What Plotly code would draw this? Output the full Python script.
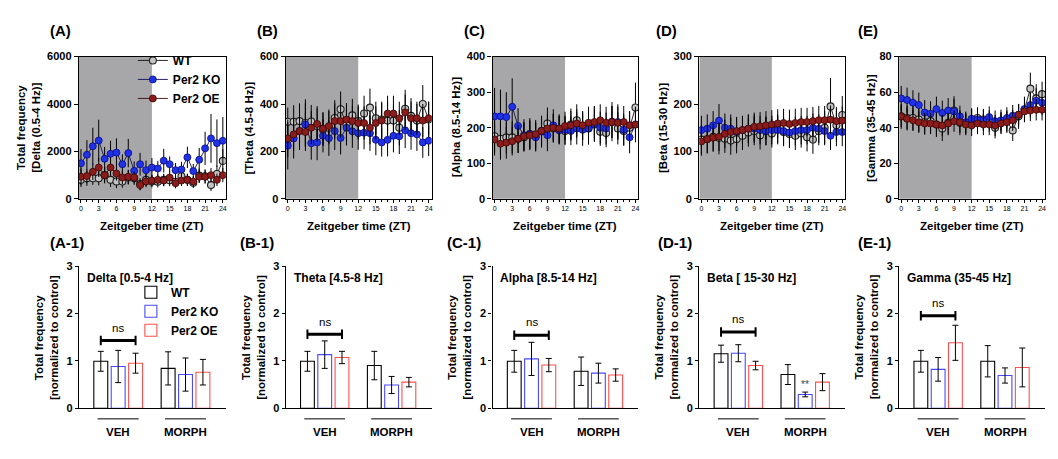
import plotly.graph_objects as go

W, H = 1058, 459
FONT = "Liberation Sans, Arial, sans-serif"

# ---------------- data ----------------
ZT = list(range(25))
DARK_PHASE_END = 12
GROUPS = ["VEH", "MORPH"]
GENOTYPES = ["WT", "Per2 KO", "Per2 OE"]

# (A) Delta
delta_wt = [800, 870, 870, 870, 1000, 800, 730, 730, 900, 870, 620, 800, 730, 720, 800, 780, 720, 950, 800, 680, 980, 950, 580, 1050, 1600]
delta_ko = [1500, 1860, 2220, 2460, 1690, 1900, 1950, 1460, 1930, 1180, 1460, 1210, 1320, 1280, 1610, 1460, 1210, 1240, 1750, 1170, 1650, 2130, 2550, 2350, 2450]
delta_oe = [930, 960, 1140, 1320, 1000, 1320, 1070, 900, 930, 900, 580, 730, 770, 800, 770, 900, 660, 770, 800, 730, 930, 930, 1000, 800, 1000]
delta_wt_err = [300, 320, 280, 300, 350, 300, 280, 260, 300, 280, 250, 260, 250, 240, 260, 250, 240, 300, 260, 220, 300, 300, 250, 350, 500]
delta_ko_err = [600, 620, 780, 880, 500, 550, 600, 420, 600, 400, 480, 400, 400, 320, 500, 330, 300, 320, 450, 300, 500, 700, 1030, 1000, 1000]
delta_oe_err = [350, 300, 350, 400, 300, 380, 300, 280, 300, 250, 220, 240, 250, 230, 240, 260, 220, 230, 250, 230, 260, 280, 300, 260, 300]

# (B) Theta
theta_wt = [325, 325, 328, 320, 326, 307, 293, 300, 341, 378, 314, 352, 328, 360, 385, 340, 335, 330, 330, 300, 380, 350, 330, 400, 335]
theta_ko = [224, 255, 286, 314, 235, 238, 266, 256, 286, 257, 300, 285, 277, 279, 277, 249, 238, 249, 266, 264, 289, 277, 272, 238, 245]
theta_oe = [255, 272, 286, 282, 300, 316, 296, 307, 328, 328, 334, 328, 320, 320, 300, 320, 330, 360, 360, 340, 365, 340, 340, 330, 340]
theta_wt_err = [60, 70, 75, 100, 70, 75, 70, 70, 75, 75, 70, 70, 70, 75, 80, 70, 75, 80, 70, 75, 80, 75, 70, 80, 75]
theta_ko_err = [100, 85, 80, 90, 70, 75, 70, 75, 80, 70, 75, 70, 70, 70, 75, 65, 60, 70, 70, 75, 75, 70, 70, 65, 65]
theta_oe_err = [80, 70, 75, 80, 70, 75, 70, 70, 75, 70, 70, 65, 70, 70, 70, 70, 75, 75, 75, 70, 75, 70, 70, 70, 70]

# (C) Alpha
alpha_wt = [176, 169, 173, 173, 169, 173, 182, 176, 191, 212, 198, 194, 191, 209, 221, 205, 198, 209, 189, 185, 216, 198, 191, 200, 257]
alpha_ko = [232, 232, 230, 259, 205, 179, 182, 173, 189, 179, 207, 193, 194, 191, 198, 194, 198, 210, 200, 198, 217, 216, 194, 173, 209]
alpha_oe = [167, 155, 158, 162, 169, 176, 179, 182, 191, 198, 200, 198, 205, 207, 212, 207, 214, 216, 221, 214, 216, 214, 216, 207, 209]
alpha_wt_err = [45, 45, 45, 45, 40, 40, 40, 40, 40, 45, 40, 40, 40, 45, 45, 40, 45, 45, 40, 40, 45, 45, 40, 45, 70]
alpha_ko_err = [80, 75, 70, 80, 50, 45, 45, 40, 45, 45, 45, 40, 40, 40, 45, 45, 45, 50, 45, 45, 55, 50, 45, 45, 50]
alpha_oe_err = [45, 45, 45, 40, 40, 40, 40, 40, 40, 40, 40, 40, 40, 40, 40, 40, 45, 45, 45, 45, 45, 45, 45, 40, 40]

# (D) Beta
beta_wt = [125, 126, 131, 129, 127, 123, 126, 133, 140, 143, 134, 143, 138, 148, 141, 137, 133, 138, 130, 125, 143, 150, 195, 155, 177]
beta_ko = [145, 148, 155, 165, 150, 148, 142, 145, 148, 148, 145, 143, 145, 145, 143, 140, 143, 145, 145, 150, 148, 143, 133, 141, 141]
beta_oe = [121, 126, 129, 131, 137, 141, 143, 145, 148, 152, 153, 155, 157, 159, 160, 158, 160, 162, 162, 164, 166, 166, 167, 164, 165]
beta_wt_err = [30, 30, 30, 35, 30, 30, 30, 30, 30, 30, 30, 30, 30, 30, 30, 30, 30, 30, 30, 30, 30, 35, 60, 35, 40]
beta_ko_err = [30, 30, 30, 35, 30, 30, 30, 30, 30, 30, 30, 30, 30, 30, 30, 30, 30, 30, 30, 30, 30, 30, 30, 30, 30]
beta_oe_err = [30, 30, 30, 30, 30, 30, 30, 30, 30, 30, 30, 30, 30, 30, 30, 30, 30, 30, 30, 30, 30, 30, 30, 30, 30]

# (E) Gamma
gamma_wt = [46.4, 45.5, 45.5, 44.6, 43.1, 43.7, 41.8, 39.5, 42.8, 49.7, 42.8, 42.4, 44.6, 45.5, 44.6, 43.7, 40.0, 42.8, 43.7, 38.5, 46.4, 50.1, 62.0, 56.5, 58.9]
gamma_ko = [56.5, 55.6, 54.1, 52.8, 48.6, 47.9, 50.5, 48.3, 49.7, 49.2, 46.4, 43.1, 45.0, 44.6, 44.2, 46.0, 43.7, 44.2, 45.5, 46.8, 47.3, 50.5, 52.8, 55.2, 54.1]
gamma_oe = [46.4, 45.0, 44.2, 43.1, 42.4, 42.4, 41.8, 41.3, 42.4, 43.7, 43.1, 41.8, 41.3, 42.4, 41.8, 41.8, 41.3, 42.4, 43.1, 44.2, 47.3, 49.2, 49.7, 50.1, 50.1]
gamma_wt_err = [7, 7, 7, 7, 7, 7, 7, 7, 7, 8, 7, 6, 6, 6, 6, 6, 6, 6, 6, 6, 7, 7, 9, 8, 7]
gamma_ko_err = [7, 7, 7, 7, 7, 7, 7, 7, 7, 7, 6, 6, 6, 6, 6, 6, 6, 6, 6, 6, 6, 7, 7, 7, 7]
gamma_oe_err = [6, 6, 6, 6, 6, 6, 6, 6, 6, 6, 6, 6, 6, 6, 6, 6, 6, 6, 6, 6, 6, 6, 6, 6, 6]

# Normalized bars [VEH, MORPH]
delta_bar_wt, delta_bar_wt_err = [0.99, 0.84], [0.21, 0.35]
delta_bar_ko, delta_bar_ko_err = [0.88, 0.71], [0.34, 0.35]
delta_bar_oe, delta_bar_oe_err = [0.95, 0.76], [0.21, 0.27]
theta_bar_wt, theta_bar_wt_err = [0.99, 0.90], [0.21, 0.30]
theta_bar_ko, theta_bar_ko_err = [1.13, 0.49], [0.29, 0.18]
theta_bar_oe, theta_bar_oe_err = [1.07, 0.55], [0.13, 0.10]
alpha_bar_wt, alpha_bar_wt_err = [0.99, 0.78], [0.23, 0.30]
alpha_bar_ko, alpha_bar_ko_err = [1.04, 0.74], [0.35, 0.21]
alpha_bar_oe, alpha_bar_oe_err = [0.91, 0.70], [0.14, 0.13]
beta_bar_wt, beta_bar_wt_err = [1.15, 0.71], [0.18, 0.21]
beta_bar_ko, beta_bar_ko_err = [1.16, 0.29], [0.18, 0.05]
beta_bar_oe, beta_bar_oe_err = [0.90, 0.55], [0.09, 0.18]
gamma_bar_wt, gamma_bar_wt_err = [0.99, 0.99], [0.23, 0.33]
gamma_bar_ko, gamma_bar_ko_err = [0.82, 0.69], [0.25, 0.16]
gamma_bar_oe, gamma_bar_oe_err = [1.38, 0.86], [0.37, 0.41]
ns_bracket_y = [1.43, 1.56, 1.54, 1.61, 1.95]

# ---------------- layout helpers ----------------
def px(p):
    return p / W

def py(p):
    return 1 - p / H

def sfx(n):
    return "" if n == 1 else str(n)

X_DOM = [(79, 226), (286, 432), (493, 639), (700, 846), (900, 1046)]
TOP_Y = (52, 198)
BOT_Y = (267, 413)
BARGAP, BARGROUPGAP = 0.225, 0.2

top_panels = [
    dict(lab="(A)", ymax=6000, dtick=2000, title="Total frequency<br>[Delta (0.5-4 Hz)]", tx=50,
         s=[(delta_wt, delta_wt_err), (delta_ko, delta_ko_err), (delta_oe, delta_oe_err)]),
    dict(lab="(B)", ymax=600, dtick=200, title="[Theta (4.5-8 Hz)]", tx=37,
         s=[(theta_wt, theta_wt_err), (theta_ko, theta_ko_err), (theta_oe, theta_oe_err)]),
    dict(lab="(C)", ymax=400, dtick=100, title="[Alpha (8.5-14 Hz)]", tx=37,
         s=[(alpha_wt, alpha_wt_err), (alpha_ko, alpha_ko_err), (alpha_oe, alpha_oe_err)]),
    dict(lab="(D)", ymax=300, dtick=100, title="[Beta (15-30 Hz)]", tx=37,
         s=[(beta_wt, beta_wt_err), (beta_ko, beta_ko_err), (beta_oe, beta_oe_err)]),
    dict(lab="(E)", ymax=80, dtick=20, title="[Gamma (35-45 Hz)]", tx=28,
         s=[(gamma_wt, gamma_wt_err), (gamma_ko, gamma_ko_err), (gamma_oe, gamma_oe_err)]),
]
bot_panels = [
    dict(lab="(A-1)", name="Delta [0.5-4 Hz]",
         s=[(delta_bar_wt, delta_bar_wt_err), (delta_bar_ko, delta_bar_ko_err), (delta_bar_oe, delta_bar_oe_err)]),
    dict(lab="(B-1)", name="Theta [4.5-8 Hz]",
         s=[(theta_bar_wt, theta_bar_wt_err), (theta_bar_ko, theta_bar_ko_err), (theta_bar_oe, theta_bar_oe_err)]),
    dict(lab="(C-1)", name="Alpha [8.5-14 Hz]",
         s=[(alpha_bar_wt, alpha_bar_wt_err), (alpha_bar_ko, alpha_bar_ko_err), (alpha_bar_oe, alpha_bar_oe_err)]),
    dict(lab="(D-1)", name="Beta [ 15-30 Hz]",
         s=[(beta_bar_wt, beta_bar_wt_err), (beta_bar_ko, beta_bar_ko_err), (beta_bar_oe, beta_bar_oe_err)]),
    dict(lab="(E-1)", name="Gamma (35-45 Hz]",
         s=[(gamma_bar_wt, gamma_bar_wt_err), (gamma_bar_ko, gamma_bar_ko_err), (gamma_bar_oe, gamma_bar_oe_err)]),
]
top_lab_x = [48, 255, 462, 655, 857]
bot_lab_x = [48, 238, 445, 657, 857]

line_styles = [
    dict(marker=dict(color="#c4c4c4", size=7, line=dict(color="#202020", width=1.1)), line=dict(color="#111111", width=0.9)),
    dict(marker=dict(color="#1f32e6", size=7, line=dict(color="#0a0a80", width=0.8)), line=dict(color="#10105a", width=0.9)),
    dict(marker=dict(color="#8a1c1c", size=7, line=dict(color="#3a0505", width=0.8)), line=dict(color="#3a0a0a", width=0.9)),
]
bar_lines = ["#000000", "#4a4aff", "#ff5050"]

fig = go.Figure()
layout = dict(
    width=W, height=H, margin=dict(l=0, r=0, t=0, b=0),
    paper_bgcolor="white", plot_bgcolor="white",
    font=dict(family=FONT, size=11, color="black"),
    barmode="group", bargap=BARGAP, bargroupgap=BARGROUPGAP,
    showlegend=True,
)
shapes, annotations = [], []
BOLD = dict(family=FONT, size=11, color="black", weight="bold")

# ---------- top panels ----------
for i, p in enumerate(top_panels):
    n = i + 1
    xa, ya = f"x{sfx(n)}", f"y{sfx(n)}"
    for j, (vals, errs) in enumerate(p["s"]):
        st = line_styles[j]
        fig.add_trace(go.Scatter(
            x=ZT, y=vals, mode="lines+markers", name=GENOTYPES[j],
            xaxis=xa, yaxis=ya, marker=st["marker"], line=st["line"],
            error_y=dict(type="data", array=errs, color="black", thickness=1, width=0),
            showlegend=(i == 0), legend="legend",
        ))
    x0, x1 = X_DOM[i]
    layout[f"xaxis{sfx(n)}"] = dict(
        domain=[px(x0), px(x1)], anchor=ya, range=[-0.35, 24.5],
        tick0=0, dtick=3, ticks="outside", ticklen=3, tickcolor="black",
        tickfont=dict(family=FONT, size=7, color="black"),
        minor=dict(dtick=1, ticks="outside", ticklen=2, tickcolor="black"),
        showline=True, linecolor="black", linewidth=1.2, mirror=True,
        showgrid=False, zeroline=False,
    )
    layout[f"yaxis{sfx(n)}"] = dict(
        domain=[py(TOP_Y[1]), py(TOP_Y[0])], anchor=xa, range=[0, p["ymax"]],
        dtick=p["dtick"], ticks="outside", ticklen=4, tickcolor="black",
        tickfont=BOLD, showline=True, linecolor="black", linewidth=1.4, mirror=True,
        showgrid=False, zeroline=False,
    )
    shapes.append(dict(type="rect", xref=xa, yref=f"{ya} domain", x0=-0.35, x1=DARK_PHASE_END,
                       y0=0, y1=1, fillcolor="#a7a7a9", line=dict(width=0), layer="below"))
    annotations.append(dict(text=f"<b>{p['title']}</b>", xref="paper", yref="paper",
                            x=px(x0 - p["tx"]), y=py((TOP_Y[0] + TOP_Y[1]) / 2),
                            textangle=-90, showarrow=False, font=dict(family=FONT, size=11.5, color="black"),
                            xanchor="center", yanchor="middle"))
    annotations.append(dict(text="<b>Zeitgeber time (ZT)</b>", xref="paper", yref="paper",
                            x=px((x0 + x1) / 2), y=py(226), showarrow=False, xanchor="center",
                            font=dict(family=FONT, size=11.5, color="black"), yanchor="middle"))
    annotations.append(dict(text=f"<b>{p['lab']}</b>", xref="paper", yref="paper", x=px(top_lab_x[i]), y=py(25),
                            xanchor="left", yanchor="middle", showarrow=False,
                            font=dict(family=FONT, size=15, color="black")))

# ---------- bottom panels ----------
slot = (1 - BARGAP) / 3
for i, p in enumerate(bot_panels):
    n = i + 6
    xa, ya = f"x{n}", f"y{n}"
    for j, (vals, errs) in enumerate(p["s"]):
        fig.add_trace(go.Bar(
            x=GROUPS, y=vals, name=GENOTYPES[j], xaxis=xa, yaxis=ya,
            marker=dict(color="white", line=dict(color=bar_lines[j], width=1.1)),
            error_y=dict(type="data", array=errs, color="black", thickness=1, width=3),
            showlegend=(i == 0), legend="legend2",
        ))
    x0, x1 = X_DOM[i]
    layout[f"xaxis{n}"] = dict(
        domain=[px(x0), px(x1)], anchor=ya, type="category", range=[-0.583, 1.598],
        showticklabels=False, ticks="", showline=True, linecolor="black", linewidth=1.3,
        showgrid=False, zeroline=False,
    )
    layout[f"yaxis{n}"] = dict(
        domain=[py(BOT_Y[1]), py(BOT_Y[0])], anchor=xa, range=[0, 3], dtick=1,
        ticks="outside", ticklen=3, tickcolor="black", tickfont=BOLD,
        showline=True, linecolor="black", linewidth=1.3, showgrid=False, zeroline=False,
    )
    for g, gname in enumerate(GROUPS):
        shapes.append(dict(type="line", xref=xa, yref=f"{ya} domain", x0=g - 0.305, x1=g + 0.305,
                           y0=-0.075, y1=-0.075, line=dict(color="black", width=1)))
        annotations.append(dict(text=f"<b>{gname}</b>", xref=xa, yref=f"{ya} domain", x=g, y=-0.165,
                                showarrow=False, xanchor="center",
                                font=dict(family=FONT, size=11.5, color="black"), yanchor="middle"))
    by = ns_bracket_y[i]
    shapes.append(dict(type="line", xref=xa, yref=ya, x0=-slot, x1=slot, y0=by, y1=by,
                       line=dict(color="black", width=3)))
    for xe in (-slot, slot):
        shapes.append(dict(type="line", xref=xa, yref=ya, x0=xe, x1=xe, y0=by - 0.1, y1=by + 0.1,
                           line=dict(color="black", width=2)))
    annotations.append(dict(text="ns", xref=xa, yref=ya, x=0, y=by + 0.1, yanchor="bottom", xanchor="center",
                            showarrow=False, font=dict(family=FONT, size=11.5, color="black")))
    annotations.append(dict(text=f"<b>{p['name']}</b>", xref=f"{xa} domain", yref=f"{ya} domain",
                            x=0.04, y=0.918, xanchor="left", yanchor="middle", showarrow=False,
                            font=dict(family=FONT, size=12, color="black")))
    annotations.append(dict(text="<b>Total frequency<br>[normalized to control]</b>", xref="paper", yref="paper",
                            x=px(x0 - 33), y=py((BOT_Y[0] + BOT_Y[1]) / 2), textangle=-90, showarrow=False,
                            font=dict(family=FONT, size=11.5, color="black"), xanchor="center", yanchor="middle"))
    annotations.append(dict(text=f"<b>{p['lab']}</b>", xref="paper", yref="paper", x=px(bot_lab_x[i]), y=py(243),
                            xanchor="left", yanchor="middle", showarrow=False,
                            font=dict(family=FONT, size=15, color="black")))

annotations.append(dict(text="**", xref="x9", yref="y9", x=1, y=beta_bar_ko[1] + beta_bar_ko_err[1],
                        yanchor="bottom", xanchor="center", showarrow=False,
                        font=dict(family=FONT, size=10, color="#444444")))

layout["legend"] = dict(x=px(133), y=py(41), xanchor="left", yanchor="top", bgcolor="rgba(0,0,0,0)",
                        font=dict(family=FONT, size=12, color="black", weight="bold"), tracegroupgap=0)
layout["legend2"] = dict(x=px(131), y=py(279), xanchor="left", yanchor="top", bgcolor="rgba(0,0,0,0)",
                         font=dict(family=FONT, size=12, color="black", weight="bold"), tracegroupgap=0)
layout["shapes"] = shapes
layout["annotations"] = annotations
fig.update_layout(**layout)
fig.write_html("out.html")
